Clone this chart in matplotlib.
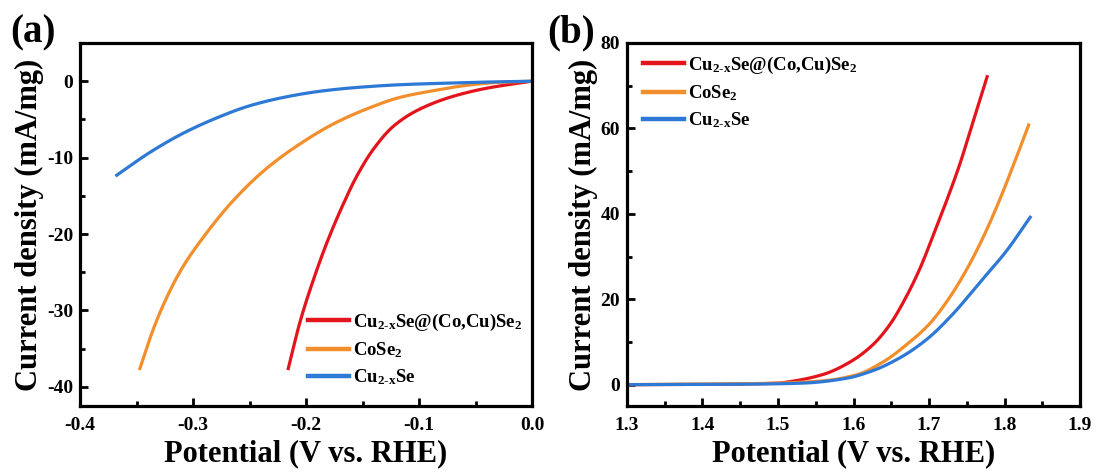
import numpy as np
import matplotlib
matplotlib.use("Agg")
import matplotlib.pyplot as plt
from matplotlib.ticker import MultipleLocator

plt.rcParams['font.family'] = ['Liberation Serif', 'DejaVu Serif']
plt.rcParams['font.weight'] = 'bold'
plt.rcParams['mathtext.fontset'] = 'custom'
plt.rcParams['mathtext.rm'] = 'Liberation Serif:bold'
plt.rcParams['mathtext.it'] = 'Liberation Serif:bold'
plt.rcParams['mathtext.bf'] = 'Liberation Serif:bold'

labels = ["Cu$_{\\mathrm{2\\text{-}x}}$Se@(Co,Cu)Se$_{\\mathrm{2}}$", "CoSe$_{\\mathrm{2}}$", "Cu$_{\\mathrm{2\\text{-}x}}$Se"]
colors = ["#e3141b", "#f28f2c", "#2f79d6"]

# Panel (a): HER
her_red_x = [0.0, -0.0135, -0.043, -0.0726, -0.102, -0.1227, -0.1404, -0.155, -0.1674, -0.1817, -0.1935, -0.2053, -0.2157]
her_red_y = [0.0, -0.28, -1.0, -2.1, -3.85, -5.9, -8.9, -12.4, -16.2, -21.2, -26.0, -31.5, -37.6]
her_org_x = [0.0, -0.03, -0.0583, -0.0873, -0.117, -0.1463, -0.1758, -0.2053, -0.2348, -0.2643, -0.2938, -0.3086, -0.321, -0.334, -0.347]
her_org_y = [0.0, -0.15, -0.55, -1.24, -2.12, -3.63, -5.59, -8.2, -11.4, -15.6, -21.0, -24.2, -27.6, -32.0, -37.6]
her_blu_x = [0.0, -0.03, -0.0726, -0.117, -0.161, -0.1905, -0.220, -0.2496, -0.279, -0.3086, -0.338, -0.3675]
her_blu_y = [0.0, -0.08, -0.24, -0.46, -0.89, -1.37, -2.12, -3.2, -4.8, -6.8, -9.3, -12.3]

# Panel (b): OER
oer_red_x = [1.30, 1.40, 1.45, 1.50, 1.516, 1.56, 1.5954, 1.626, 1.6483, 1.6705, 1.688, 1.7057, 1.7234, 1.74, 1.76, 1.777]
oer_red_y = [0.0, 0.05, 0.15, 0.35, 0.7, 2.4, 5.3, 9.4, 14.1, 20.8, 27.2, 35.0, 43.1, 51.2, 62.5, 72.1]
oer_org_x = [1.30, 1.40, 1.50, 1.56, 1.604, 1.640, 1.6705, 1.701, 1.728, 1.750, 1.772, 1.792, 1.812, 1.832]
oer_org_y = [0.0, 0.1, 0.35, 0.9, 2.3, 5.4, 9.4, 14.3, 20.6, 27.0, 34.6, 42.6, 51.5, 60.8]
oer_blu_x = [1.30, 1.40, 1.50, 1.538, 1.591, 1.626, 1.6616, 1.697, 1.732, 1.7676, 1.803, 1.834]
oer_blu_y = [0.0, 0.05, 0.2, 0.4, 1.5, 3.3, 6.3, 10.6, 16.6, 24.0, 31.4, 39.2]

W, H = 1097, 473
fig = plt.figure(figsize=(W/100, H/100), dpi=100)
axa = fig.add_axes([80/W, 1-406/H, (532-80)/W, (406-43)/H])
axb = fig.add_axes([627/W, 1-406/H, (1080-627)/W, (406-43)/H])

def smooth(x, y):
    x = np.asarray(x, float); y = np.asarray(y, float)
    order = np.argsort(x)
    x, y = x[order], y[order]
    xs = np.linspace(x[0], x[-1], 400)
    h = np.diff(x); d = np.diff(y) / h
    m = np.zeros_like(x)
    for i in range(1, len(x)-1):
        if d[i-1]*d[i] > 0:
            w1 = 2*h[i] + h[i-1]; w2 = h[i] + 2*h[i-1]
            m[i] = (w1 + w2) / (w1/d[i-1] + w2/d[i])
    m[0] = d[0]; m[-1] = d[-1]
    idx = np.clip(np.searchsorted(x, xs) - 1, 0, len(x)-2)
    t = (xs - x[idx]) / h[idx]
    h00 = 2*t**3 - 3*t**2 + 1; h10 = t**3 - 2*t**2 + t
    h01 = -2*t**3 + 3*t**2; h11 = t**3 - t**2
    ys = h00*y[idx] + h10*h[idx]*m[idx] + h01*y[idx+1] + h11*h[idx]*m[idx+1]
    return xs, ys

for x, y, c, l in [(her_red_x, her_red_y, colors[0], labels[0]),
                   (her_org_x, her_org_y, colors[1], labels[1]),
                   (her_blu_x, her_blu_y, colors[2], labels[2])]:
    xs, ys = smooth(x, y)
    axa.plot(xs, ys, color=c, lw=2.3, label=l)

for x, y, c, l in [(oer_red_x, oer_red_y, colors[0], labels[0]),
                   (oer_org_x, oer_org_y, colors[1], labels[1]),
                   (oer_blu_x, oer_blu_y, colors[2], labels[2])]:
    xs, ys = smooth(x, y)
    axb.plot(xs, ys, color=c, lw=2.3, label=l)

axa.set_xlim(-0.4, 0.0)
axa.set_ylim(-42.5, 5)
axa.set_xticks([-0.4, -0.3, -0.2, -0.1, 0.0])
axa.set_xticklabels(["-0.4", "-0.3", "-0.2", "-0.1", "0.0"])
axa.xaxis.set_minor_locator(MultipleLocator(0.05))
axa.set_yticks([0, -10, -20, -30, -40])
axa.set_yticklabels(["0", "-10", "-20", "-30", "-40"])
axa.yaxis.set_minor_locator(MultipleLocator(5))

axb.set_xlim(1.3, 1.9)
axb.set_ylim(-5, 80)
axb.xaxis.set_major_locator(MultipleLocator(0.1))
axb.xaxis.set_minor_locator(MultipleLocator(0.05))
axb.yaxis.set_major_locator(MultipleLocator(20))
axb.yaxis.set_minor_locator(MultipleLocator(10))

for ax in (axa, axb):
    for s in ax.spines.values():
        s.set_linewidth(2.3)
    ax.tick_params(which='both', direction='in', top=False, right=False, width=2.0)
    ax.tick_params(which='major', length=5.5, labelsize=14)
    ax.tick_params(axis='x', which='major', pad=8)
    ax.tick_params(axis='y', which='major', pad=5)
    ax.tick_params(which='minor', length=3.5)
    for t in ax.get_xticklabels() + ax.get_yticklabels():
        t.set_fontweight('bold')
    ax.set_xlabel("Potential (V vs. RHE)", fontsize=22, fontweight='bold', labelpad=4)
    ax.set_ylabel("Current density (mA/mg)", fontsize=22, fontweight='bold', labelpad=2)

leg_kw = dict(frameon=False, fontsize=13.5, handlelength=2.2, handletextpad=0.2,
              labelspacing=0.4, borderaxespad=0.0)
la = axa.legend(loc='lower left', bbox_to_anchor=(0.488, 0.031), **leg_kw)
lb = axb.legend(loc='upper left', bbox_to_anchor=(0.019, 0.989), **leg_kw)
for lg in (la, lb):
    for ln in lg.get_lines():
        ln.set_linewidth(3.2)

fig.text(10/W, 1-33/H, "(a)", fontsize=28, fontweight='bold', va='center', ha='left')
fig.text(547/W, 1-33/H, "(b)", fontsize=28, fontweight='bold', va='center', ha='left')

fig.savefig("out.png", dpi=100)
